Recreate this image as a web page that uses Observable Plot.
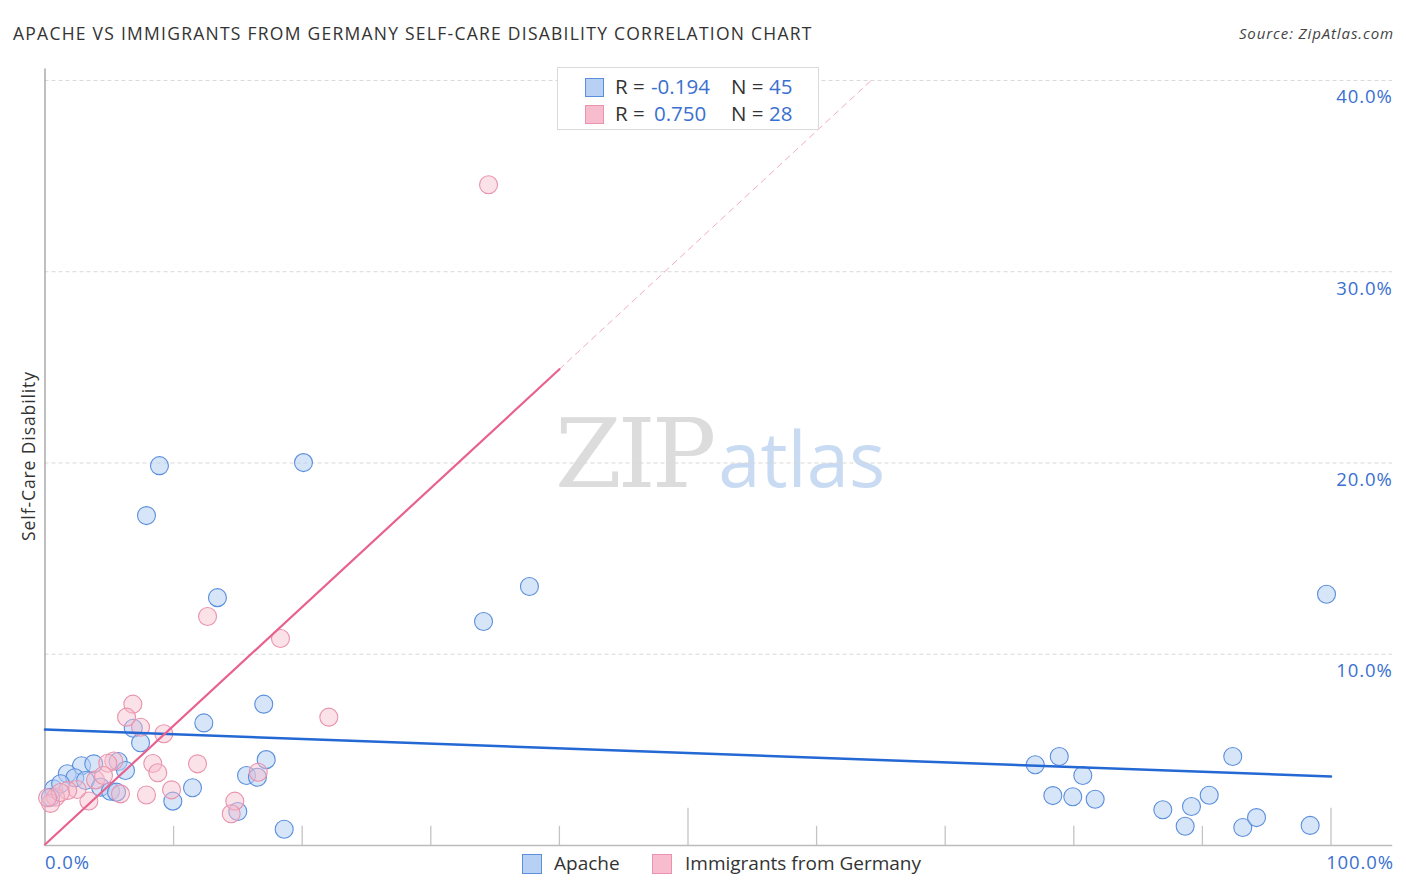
<!DOCTYPE html>
<html>
<head>
<meta charset="utf-8">
<script src="https://cdn.jsdelivr.net/npm/d3@7"></script>
<script src="https://cdn.jsdelivr.net/npm/@observablehq/plot@0.6"></script>
<style>
  body { margin: 0; background: #fff; font-family: "Open Sans", "Noto Sans", sans-serif; }
  #wrap { position: relative; width: 1406px; height: 892px; overflow: hidden; }
  #chart { position: absolute; left: 0; top: 0; z-index: 2; }
  .abs { position: absolute; white-space: nowrap; }
  #title { left: 13px; top: 21px; font-size: 17.5px; color: #333; letter-spacing: 1.25px; }
  #source { right: 12px; top: 23px; font-size: 15px; color: #444; font-style: italic; letter-spacing: 0.9px; }
  #ylab { left: 28px; top: 456px; transform: translate(-50%, -50%) rotate(-90deg); font-size: 17.5px; color: #333; letter-spacing: 0.9px; }
  #wm { left: 555px; top: 398px; z-index: 1; }
  #wm .zip { font-family: "DejaVu Serif", "Liberation Serif", serif; font-size: 96px; color: #dcdcdc; letter-spacing: -4px; }
  #wm .atlas { font-family: "Open Sans", sans-serif; font-size: 76px; color: #c9dbf2; margin-left: 6px; }
  #legend { left: 557px; top: 67px; width: 262px; height: 63px; border: 1px solid #dadada; background: #fff; z-index: 3; box-sizing: border-box; }
  .row { position: absolute; left: 0; height: 24px; font-size: 20.5px; color: #333; }
  .sw { position: absolute; width: 19px; height: 19px; box-sizing: border-box; }
  .val { color: #3a70d0; }
  #bottomLegend { left: 0; top: 850px; z-index: 3; font-size: 19px; color: #333; }
  .xl { top: 849px; font-size: 18.5px; color: #3a70d0; z-index: 3; letter-spacing: 0.9px; }
</style>
</head>
<body>
<div id="wrap">
  <div id="title" class="abs">APACHE VS IMMIGRANTS FROM GERMANY SELF-CARE DISABILITY CORRELATION CHART</div>
  <div id="source" class="abs">Source: ZipAtlas.com</div>
  <div id="ylab" class="abs">Self-Care Disability</div>
  <div id="wm" class="abs"><span class="zip">ZIP</span><span class="atlas">atlas</span></div>
  <div id="chart"></div>
  <div id="legend" class="abs"></div>
  <div id="bottomLegend" class="abs"></div>
  <div id="x0" class="abs xl" style="left:45px;">0.0%</div>
  <div id="x100" class="abs xl" style="right:12px;">100.0%</div>
</div>
<script>
// ---- data ----
const apacheX = [8.90, 20.10, 7.89, 13.41, 34.10, 37.67, 99.65, 77.00, 78.87, 80.70, 78.37, 79.92, 81.66, 92.36, 86.92,
  89.15, 90.53, 88.66, 93.14, 94.21, 98.38, 6.86, 7.43, 12.35, 17.01, 17.20, 15.67, 16.52, 11.47, 9.94,
  14.99, 18.60, 2.84, 3.79, 1.73, 2.32, 3.15, 5.69, 6.26, 4.32, 5.09, 5.56, 0.68, 1.21, 0.43];
const apacheY = [19.86, 20.02, 17.25, 12.96, 11.71, 13.54, 13.14, 4.22, 4.65, 3.66, 2.61, 2.55, 2.42, 4.65, 1.87,
  2.04, 2.63, 1.01, 0.94, 1.46, 1.05, 6.13, 5.37, 6.41, 7.39, 4.49, 3.66, 3.57, 3.02, 2.32,
  1.78, 0.85, 4.17, 4.27, 3.75, 3.54, 3.40, 4.39, 3.92, 3.05, 2.84, 2.79, 2.96, 3.23, 2.52];
const germanyX = [34.49, 12.64, 18.31, 22.07, 6.83, 6.34, 7.43, 9.24, 11.86, 8.38, 8.77, 9.84, 7.89, 14.76,
  14.48, 16.58, 5.87, 3.41, 5.35, 4.88, 3.93, 2.50, 1.77, 0.82, 0.43, 4.55, 1.20, 0.20];
const germanyY = [34.55, 11.97, 10.82, 6.71, 7.39, 6.71, 6.18, 5.84, 4.27, 4.29, 3.80, 2.91, 2.64, 2.32,
  1.66, 3.83, 2.70, 2.33, 4.42, 4.30, 3.43, 2.93, 2.88, 2.52, 2.20, 3.66, 2.77, 2.50];
const apacheTrendX = [0, 100];
const apacheTrendY = [6.06, 3.61];
const germanyTrendX = [0, 40];
const germanyTrendY = [0.05, 24.9];
const germanyDashX = [40, 64.4];
const germanyDashY = [24.9, 40.1];
const yTicks = [10, 20, 30, 40];
const xTicks = [0, 10, 20, 30, 40, 50, 60, 70, 80, 90, 100];
const majorXTicks = [0, 50, 100];
const seriesNames = ["Apache", "Immigrants from Germany"];
const rValues = ["-0.194", "0.750"];
const nValues = ["45", "28"];

// ---- colours ----
const blueFill = "#b7d0f4", blueStroke = "#5b8fdc", blueLine = "#2468d4";
const pinkFill = "#f7bccd", pinkStroke = "#e993ae", pinkLine = "#e8628f";

const apache = apacheX.map((x, i) => ({x, y: apacheY[i]}));
const germany = germanyX.map((x, i) => ({x, y: germanyY[i]}));
const aTrend = apacheTrendX.map((x, i) => ({x, y: apacheTrendY[i]}));
const gTrend = germanyTrendX.map((x, i) => ({x, y: germanyTrendY[i]}));
const gDash = germanyDashX.map((x, i) => ({x, y: germanyDashY[i]}));
const gridRight = 104.8;

const chart = Plot.plot({
  width: 1406,
  height: 892,
  marginLeft: 44.5,
  marginRight: 75.5,
  marginTop: 68.5,
  marginBottom: 47,
  x: {domain: [0, 100], axis: null},
  y: {domain: [0, 40.6], axis: null},
  style: {fontFamily: "Open Sans, sans-serif", background: "transparent", overflow: "visible"},
  marks: [
    Plot.ruleY(yTicks, {x1: 0, x2: gridRight, stroke: "#d9d9d9", strokeDasharray: "4,3", strokeWidth: 1}),
    Plot.text(yTicks, {x: gridRight, y: d => d, dy: 17, text: d => d.toFixed(1) + "%", textAnchor: "end", fill: "#3a70d0", fontSize: 18.5, style: "letter-spacing:0.9px"}),
    Plot.ruleX(xTicks.filter(d => !majorXTicks.includes(d)), {x: d => d, y1: 0, y2: 1.0, stroke: "#c4c4c4", strokeWidth: 1.3}),
    Plot.ruleX(majorXTicks.filter(d => d > 0), {x: d => d, y1: 0, y2: 1.95, stroke: "#c4c4c4", strokeWidth: 1.3}),
    Plot.ruleX([0], {y1: 0, y2: 40.6, stroke: "#aaaaaa", strokeWidth: 1.5}),
    Plot.ruleY([0], {x1: 0, x2: gridRight, stroke: "#bbbbbb", strokeWidth: 1.5}),
    Plot.dot(apache, {x: "x", y: "y", r: 9, fill: blueFill, fillOpacity: 0.55, stroke: blueStroke, strokeWidth: 1.1}),
    Plot.dot(germany, {x: "x", y: "y", r: 9, fill: pinkFill, fillOpacity: 0.45, stroke: pinkStroke, strokeWidth: 1.1}),
    Plot.line(gDash, {x: "x", y: "y", stroke: pinkLine, strokeOpacity: 0.55, strokeWidth: 1, strokeDasharray: "6,5"}),
    Plot.line(aTrend, {x: "x", y: "y", stroke: blueLine, strokeWidth: 2.5}),
    Plot.line(gTrend, {x: "x", y: "y", stroke: pinkLine, strokeWidth: 2.2})
  ]
});
chart.querySelectorAll("text").forEach(t => t.setAttribute("letter-spacing", "0.9"));
document.getElementById("chart").appendChild(chart);

// top legend
const leg = document.getElementById("legend");
const fills = [blueFill, pinkFill], strokes = [blueStroke, pinkStroke];
rValues.forEach((r, i) => {
  const top = 8 + i * 27;
  leg.insertAdjacentHTML("beforeend",
    `<div class="sw" style="left:27px;top:${top + 2}px;background:${fills[i]};border:1px solid ${strokes[i]};"></div>` +
    `<div class="row" style="top:${top - 4}px;left:57px;">R = </div>` +
    `<div class="row val" style="top:${top - 4}px;left:${r.startsWith("-") ? 93 : 96}px;">${r}</div>` +
    `<div class="row" style="top:${top - 4}px;left:173px;">N = </div>` +
    `<div class="row val" style="top:${top - 4}px;left:211px;">${nValues[i]}</div>`);
});

// bottom legend
const bl = document.getElementById("bottomLegend");
const lefts = [[522, 554], [652, 685]];
seriesNames.forEach((s, i) => {
  bl.insertAdjacentHTML("beforeend",
    `<div class="sw" style="position:absolute;left:${lefts[i][0]}px;top:4px;width:20px;height:20px;background:${fills[i]};border:1px solid ${strokes[i]};"></div>` +
    `<div style="position:absolute;left:${lefts[i][1]}px;top:0px;white-space:nowrap;">${s}</div>`);
});
</script>
</body>
</html>
